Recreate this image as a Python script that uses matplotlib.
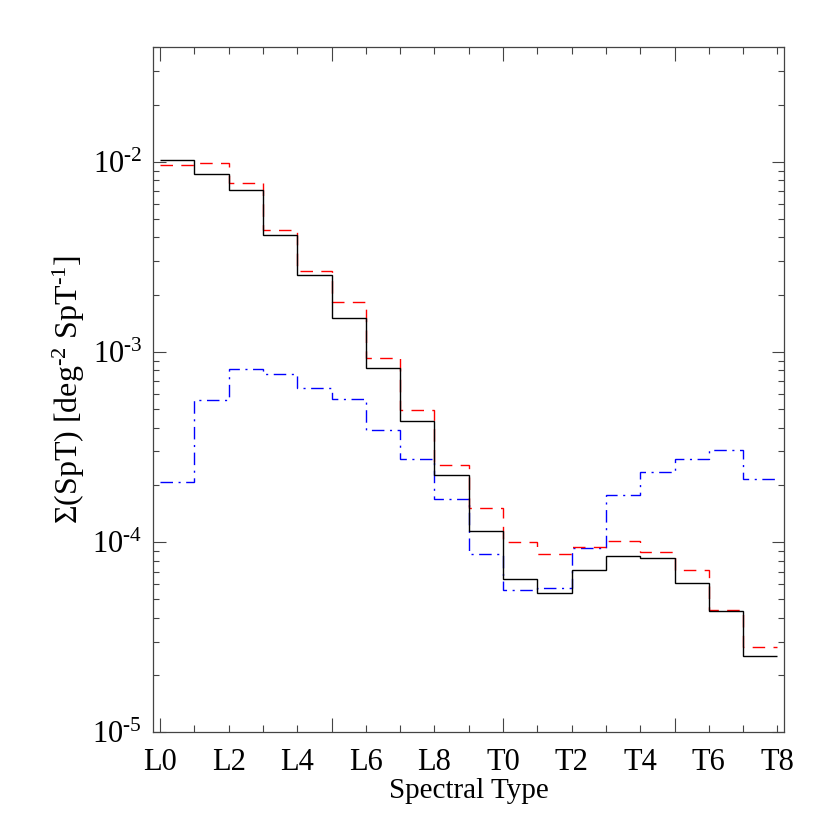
import matplotlib
matplotlib.use("Agg")
import matplotlib.pyplot as plt
import numpy as np

plt.rcParams['font.family'] = ['Liberation Serif', 'DejaVu Serif']
plt.rcParams['mathtext.fontset'] = 'custom'
plt.rcParams['mathtext.rm'] = 'Liberation Serif'
plt.rcParams['mathtext.it'] = 'Liberation Serif:italic'
plt.rcParams['mathtext.bf'] = 'Liberation Serif:bold'

# Spectral type bins L0..T8 (edges at integer positions)
tick_labels = ['L0', 'L2', 'L4', 'L6', 'L8', 'T0', 'T2', 'T4', 'T6', 'T8']
n_bins = 18

black_vals = [1.02e-2, 8.67e-3, 7.09e-3, 4.11e-3, 2.53e-3, 1.50e-3, 8.24e-4, 4.36e-4,
              2.25e-4, 1.14e-4, 6.38e-5, 5.43e-5, 7.10e-5, 8.50e-5, 8.26e-5, 6.10e-5,
              4.33e-5, 2.53e-5]
red_vals = [9.65e-3, 9.90e-3, 7.78e-3, 4.37e-3, 2.66e-3, 1.84e-3, 9.29e-4, 4.97e-4,
            2.54e-4, 1.51e-4, 1.00e-4, 8.67e-5, 9.45e-5, 1.02e-4, 8.90e-5, 7.10e-5,
            4.41e-5, 2.81e-5]
blue_vals = [2.06e-4, 5.56e-4, 8.17e-4, 7.62e-4, 6.43e-4, 5.65e-4, 3.88e-4, 2.73e-4,
             1.69e-4, 8.63e-5, 5.62e-5, 5.77e-5, 9.37e-5, 1.77e-4, 2.35e-4, 2.73e-4,
             3.05e-4, 2.15e-4]

edges = np.arange(n_bins + 1)

fig = plt.figure(figsize=(8.3, 8.3), dpi=100)
ax = fig.add_axes([0.1847, 0.1177, 0.7602, 0.8253])

ax.stairs(blue_vals, edges, color='blue', lw=1.0, linestyle=(0, (9, 4, 1.5, 4)), baseline=None)
ax.stairs(red_vals, edges, color='red', lw=1.0, linestyle=(0, (9, 6)), baseline=None)
ax.stairs(black_vals, edges, color='black', lw=1.0, baseline=None)

ax.set_yscale('log')
ax.set_xlim(-0.2, 18.2)
ax.set_ylim(1e-5, 4.0e-2)

# x ticks: long ticks at 0,5,10,15; short at every type; labels every 2
ax.set_xticks([0, 5, 10, 15])
ax.set_xticks(np.arange(0, 19), minor=True)
ax.tick_params(axis='x', which='both', labelbottom=False)
sec = ax.secondary_xaxis('bottom')
sec.set_xticks(np.arange(0, 19, 2))
sec.set_xticklabels(tick_labels)
sec.tick_params(length=0, pad=11, labelsize=22)
sec.spines['bottom'].set_visible(False)

ax.tick_params(which='major', direction='in', top=True, right=True, length=10,
               width=0.8, color='#444444')
ax.tick_params(which='minor', direction='in', top=True, right=True, length=5,
               width=0.8, color='#444444')
ax.tick_params(axis='y', which='major', length=9, pad=8, labelsize=22)
ax.tick_params(axis='y', which='minor', length=4.5)
ax.yaxis.set_major_locator(matplotlib.ticker.LogLocator(base=10, numticks=10))
ax.yaxis.set_minor_locator(matplotlib.ticker.LogLocator(base=10, subs=np.arange(2, 10), numticks=20))
ax.yaxis.set_minor_formatter(matplotlib.ticker.NullFormatter())
ax.yaxis.set_major_formatter(matplotlib.ticker.FuncFormatter(
    lambda v, p: r'$10^{\text{%d}}$' % int(round(np.log10(v)))))

for s in ax.spines.values():
    s.set_color('#444444')
    s.set_linewidth(0.9)

sec.set_xlabel('Spectral Type', fontsize=21, labelpad=1)
ax.set_ylabel(r'$\Sigma$(SpT) [deg$^{\text{-2}}$ SpT$^{\text{-1}}$]', fontsize=23, labelpad=4)

fig.savefig('out.png', dpi=100)
